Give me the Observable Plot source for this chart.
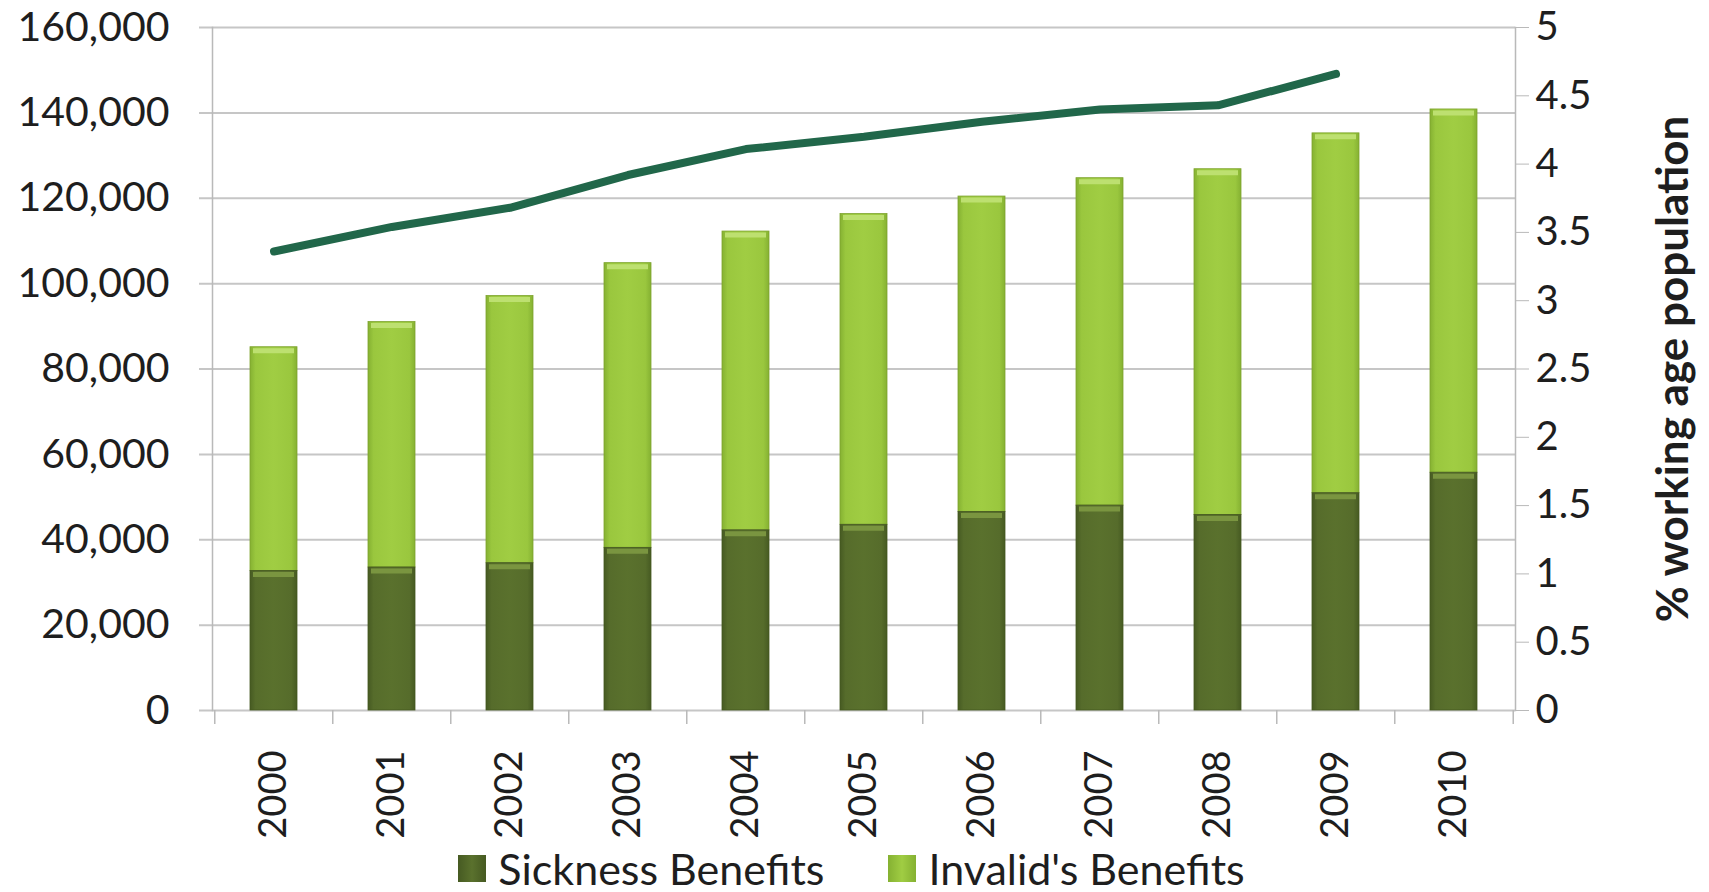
<!DOCTYPE html>
<html>
<head>
<meta charset="utf-8">
<script src="https://cdn.jsdelivr.net/npm/d3@7"></script>
<script src="https://cdn.jsdelivr.net/npm/@observablehq/plot@0.6"></script>
<style>
  body { margin: 0; background: #fff; font-family: Lato, "Open Sans", sans-serif; color: #1e1e1e; overflow: hidden; }
  #legend { position: absolute; left: 200px; top: 847px; width: 1303px; height: 43px; display: flex; justify-content: center; align-items: center; font-size: 43px; line-height: 1; }
  .item { display: flex; align-items: center; height: 43px; }
  .item + .item { margin-left: 64px; }
  .sw { width: 28px; height: 27px; margin-right: 12px; }
</style>
</head>
<body>
<div id="chart"></div>
<div id="legend"></div>
<script>
const years = ["2000","2001","2002","2003","2004","2005","2006","2007","2008","2009","2010"];
const sickness = [32700, 33500, 34500, 38100, 42200, 43500, 46500, 48000, 45800, 50900, 55700];
const invalid  = [52400, 57500, 62600, 66700, 70000, 72800, 73900, 76700, 81000, 84300, 85100];
const pctWorkingAge = [3.36, 3.54, 3.68, 3.92, 4.11, 4.20, 4.31, 4.40, 4.43, 4.66, null];
const leftTicks = [0, 20000, 40000, 60000, 80000, 100000, 120000, 140000, 160000];
const rightTicks = [0, 0.5, 1, 1.5, 2, 2.5, 3, 3.5, 4, 4.5, 5];
const seriesNames = ["Sickness Benefits", "Invalid's Benefits"];
const rightTitle = "% working age population";

const W = 1709, H = 847, ML = 212, MR = 194, MT = 27, MB = 137;
const ratio = 160000 / 5;
const step = (W - ML - MR) / years.length;

const bars = years.map((y, i) => ({year: y, s: sickness[i], total: sickness[i] + invalid[i]}));
const lineRows = years.map((y, i) => ({year: y, v: pctWorkingAge[i]})).filter(d => d.v != null);

function defs() {
  const ns = "http://www.w3.org/2000/svg";
  const g = document.createElementNS(ns, "g");
  g.innerHTML = `<defs>
    <linearGradient id="gDark" x1="0" x2="1" y1="0" y2="0">
      <stop offset="0" stop-color="#465a22"/>
      <stop offset="0.12" stop-color="#566c2b"/>
      <stop offset="0.5" stop-color="#5a712d"/>
      <stop offset="0.88" stop-color="#566c2b"/>
      <stop offset="1" stop-color="#465a22"/>
    </linearGradient>
    <linearGradient id="gLight" x1="0" x2="1" y1="0" y2="0">
      <stop offset="0" stop-color="#85b132"/>
      <stop offset="0.12" stop-color="#9ac73e"/>
      <stop offset="0.5" stop-color="#a0cd43"/>
      <stop offset="0.88" stop-color="#9ac73e"/>
      <stop offset="1" stop-color="#85b132"/>
    </linearGradient>
  </defs>`;
  return g;
}

const chart = Plot.plot({
  width: W, height: H,
  marginLeft: ML, marginRight: MR, marginTop: MT, marginBottom: MB,
  style: {fontFamily: "Lato, 'Open Sans', sans-serif", fontSize: "40px", color: "#1e1e1e", background: "#fff"},
  x: {type: "band", domain: years, paddingInner: 0.6, paddingOuter: 0.3},
  y: {domain: [0, 160000]},
  marks: [
    defs,
    Plot.ruleY(leftTicks, {y: d => d, stroke: "#c6c6c6", strokeWidth: 2, insetLeft: -13}),
    Plot.frame({anchor: "left", stroke: "#b9b9b9", strokeWidth: 1.5}),
    Plot.frame({anchor: "right", stroke: "#b9b9b9", strokeWidth: 1.5}),
    Plot.ruleX(years, {x: d => d, y1: 0, y2: 0, insetBottom: -14, dx: -step / 2, stroke: "#b9b9b9", strokeWidth: 1.5}),
    Plot.ruleX([years[years.length - 1]], {x: d => d, y1: 0, y2: 0, insetBottom: -14, dx: step / 2, stroke: "#b9b9b9", strokeWidth: 1.5}),
    Plot.barY(bars, {x: "year", y1: "s", y2: "total", fill: "url(#gLight)", stroke: "#7ea42e", strokeWidth: 0.8}),
    Plot.tickY(bars, {x: "year", y: "total", stroke: "#bde070", strokeWidth: 5, dy: 3.5, inset: 3}),
    Plot.barY(bars, {x: "year", y1: 0, y2: "s", fill: "url(#gDark)", stroke: "#44571f", strokeWidth: 0.8}),
    Plot.tickY(bars, {x: "year", y: "s", stroke: "#7a9540", strokeWidth: 5, dy: 3.5, inset: 3}),
    Plot.line(lineRows, {x: "year", y: d => d.v * ratio, stroke: "#21674a", strokeWidth: 8, strokeLinecap: "round", strokeLinejoin: "round"}),
    Plot.axisY({anchor: "left", ticks: leftTicks, tickSize: 0, tickPadding: 43, fontSize: 41, tickFormat: d3.format(","), label: null}),
    Plot.axisY({anchor: "right", ticks: rightTicks.map(t => t * ratio), tickSize: 13, tickPadding: 7, stroke: "#b9b9b9", tickFormat: d => String(d / ratio), label: null}),
    Plot.axisX({tickSize: 0, tickPadding: 40, tickRotate: -90, fontSize: 38, label: null}),
    Plot.text([rightTitle], {text: d => d, frameAnchor: "right", textAnchor: "middle", rotate: -90, dx: 158, fontWeight: "bold", fontSize: 44, fill: "#1e1e1e"})
  ]
});
document.getElementById("chart").append(chart);

const legend = document.getElementById("legend");
const swatchBg = ["linear-gradient(90deg,#465a22,#5a712d 50%,#465a22)", "linear-gradient(90deg,#85b132,#a0cd43 50%,#85b132)"];
seriesNames.forEach((name, i) => {
  const it = document.createElement("div");
  it.className = "item";
  it.innerHTML = `<span class="sw" style="background:${swatchBg[i]}"></span><span>${name}</span>`;
  legend.append(it);
});
</script>
</body>
</html>
